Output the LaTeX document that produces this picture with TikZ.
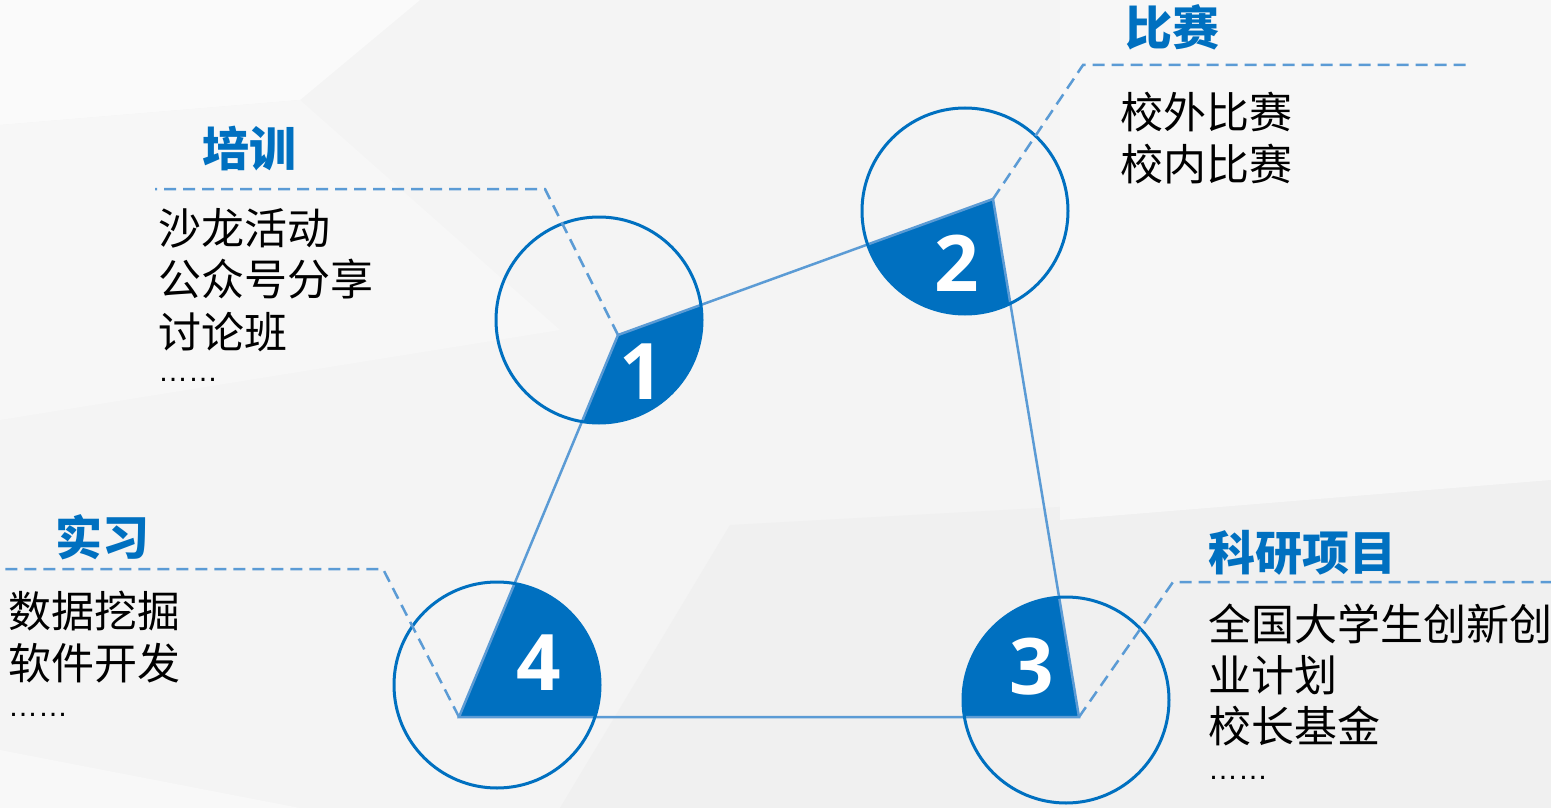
\documentclass[tikz,border=0pt]{standalone}
\usepackage{fontspec}
\newfontfamily\cjk{Noto Sans CJK SC}
\newfontfamily\digitfont{Open Sans}
\newfontfamily\dotfont{Liberation Sans}
\definecolor{dblue}{HTML}{0070C0}
\definecolor{lblue}{HTML}{5B9BD5}
\definecolor{bg}{HTML}{F4F4F4}
\tikzset{
  edgeline/.style={draw=lblue, line width=2.5pt},
  ring/.style={circle, draw=dblue, line width=3pt, minimum size=206pt, inner sep=0pt},
  dashline/.style={draw=lblue, line width=2.5pt, dash pattern=on 12pt off 7pt},
  digit/.style={font=\digitfont\bfseries\fontsize{78}{80}\selectfont, text=white, inner sep=0pt},
  ttl/.style={font=\cjk\bfseries\fontsize{47}{56}\selectfont, text=dblue, anchor=west, inner sep=0pt},
  txt/.style={font=\cjk\fontsize{43}{52}\selectfont, text=black, anchor=west, inner sep=0pt},
  dots/.style={font=\dotfont\fontsize{30}{32}\selectfont, text=black, anchor=west, inner sep=0pt},
}
\begin{document}
\begin{tikzpicture}[x=1pt,y=-1pt]
\useasboundingbox (0,0) rectangle (1551,808);
% background
\fill[bg] (0,0) rectangle (1551,808);
\fill[white!55!bg] (0,0) -- (420,0) -- (300,100) -- (0,125) -- cycle;
\fill[white!25!bg] (0,125) -- (300,100) -- (560,330) -- (0,420) -- cycle;
\fill[black!1.5!bg] (730,525) -- (1551,480) -- (1551,808) -- (560,808) -- cycle;
\fill[white!25!bg] (1060,0) -- (1551,0) -- (1551,480) -- (1060,520) -- cycle;
\fill[white!40!bg] (0,750) -- (300,808) -- (0,808) -- cycle;

% vertices
\coordinate (v1) at (618,335);
\coordinate (v2) at (993,199);
\coordinate (v3) at (1079,717);
\coordinate (v4) at (459,717);

% filled sectors
\foreach \cx/\cy in {599/320, 965/211, 1066/700, 497/685}{
  \begin{scope}
    \clip (\cx,\cy) circle[radius=103];
    \fill[dblue] (v1) -- (v2) -- (v3) -- (v4) -- cycle;
  \end{scope}
}

% quadrilateral edges
\draw[edgeline] (v1) -- (v2) -- (v3) -- (v4) -- cycle;

% circles
\node[ring] (n1) at (599,320) {};
\node[ring] (n2) at (965,211) {};
\node[ring] (n3) at (1066,700) {};
\node[ring] (n4) at (497,685) {};

% digits
\node[digit] (d1) at (642,372) {1};
\node[digit] (d2) at (957,263) {2};
\node[digit] (d3) at (1032,667) {3};
\node[digit] (d4) at (539,663) {4};

% dashed leaders
\coordinate (k1) at (545,189); \coordinate (e1) at (155,189);
\coordinate (k2) at (1083,65); \coordinate (e2) at (1467,65);
\coordinate (k3) at (1173,582); \coordinate (e3) at (1551,582);
\coordinate (k4) at (383,569); \coordinate (e4) at (0,569);
\draw[dashline] (v1) -- (k1) -- (e1);
\draw[dashline] (v2) -- (k2) -- (e2);
\draw[dashline] (v3) -- (k3) -- (e3);
\draw[dashline] (v4) -- (k4) -- (e4);

% group 1
\node[ttl] (t1) at (202,149) {培训};
\node[txt] (a1) at (158,228.5) {沙龙活动};
\node[txt] (a2) at (158,279.5) {公众号分享};
\node[txt] (a3) at (158,332.5) {讨论班};
\node[dots] (a4) at (158,380) {……};

% group 2
\node[ttl] (t2) at (1125,27.5) {比赛};
\node[txt] (b1) at (1120,112.5) {校外比赛};
\node[txt] (b2) at (1120,164.5) {校内比赛};

% group 3
\node[ttl] (t3) at (1208,553) {科研项目};
\node[txt] (c1) at (1208,623.5) {全国大学生创新创};
\node[txt] (c2) at (1208,675) {业计划};
\node[txt] (c3) at (1208,726) {校长基金};
\node[dots] (c4) at (1208,778) {……};

% group 4
\node[ttl] (t4) at (55,537) {实习};
\node[txt] (g1) at (8,611.5) {数据挖掘};
\node[txt] (g2) at (8,663.5) {软件开发};
\node[dots] (g3) at (8,715) {……};
\end{tikzpicture}
\end{document}
